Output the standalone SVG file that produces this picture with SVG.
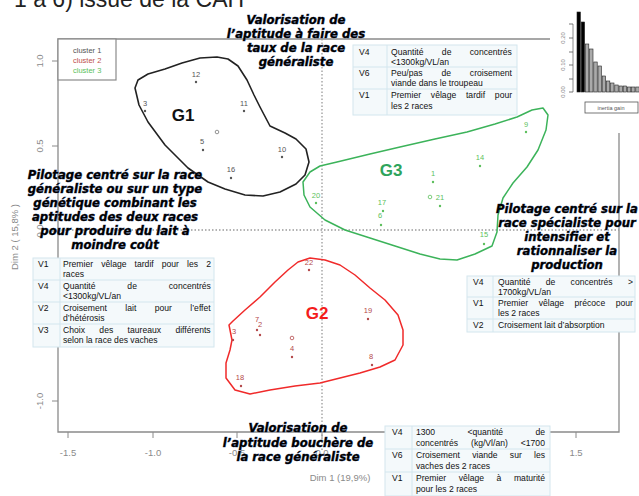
<svg xmlns="http://www.w3.org/2000/svg" width="639" height="496" viewBox="0 0 639 496">
<defs>
<style>
.ax{stroke:#8a8a8a;stroke-width:1.3;fill:none}
.tk{stroke:#8a8a8a;stroke-width:1}
.al{font-family:"Liberation Sans",Arial,sans-serif;font-size:9.5px;fill:#8a8a8a}
.guide{stroke:#9a9a9a;stroke-width:1.3;stroke-dasharray:1.5 2;fill:none}
.num{font-family:"Liberation Sans",Arial,sans-serif;font-size:7.5px;text-anchor:middle}
.c1 .num,.c1 .pt{fill:#555}
.c2 .num,.c2 .pt{fill:#b4484a}
.c3 .num,.c3 .pt{fill:#5cbf5c}
.cen{fill:none;stroke-width:0.8}
.head{font-family:"DejaVu Sans",Verdana,sans-serif;font-size:11.7px;font-weight:bold;font-style:italic;fill:#000;stroke:#233d7a;stroke-width:0.5;paint-order:stroke;text-anchor:middle}
.tb{fill:#f4f9fb;stroke:#d3e6ee;stroke-width:1}
.tl{stroke:#d3e6ee;stroke-width:1}
.tt{font-family:"Liberation Sans",Arial,sans-serif;font-size:8.6px;fill:#111}
.glab{font-family:"Liberation Sans",Arial,sans-serif;font-size:17px;font-weight:bold}
</style>
</defs>
<rect width="639" height="496" fill="#fff"/>
<text x="14" y="7" font-family="Liberation Sans,Arial,sans-serif" font-size="23" fill="#222">1 à 6) issue de la CAH</text>

<g id="axes">
<polyline class="ax" points="550,39 58,39 58,432 619,432 619,133"/>
<line class="tk" x1="52" y1="61" x2="58" y2="61"/>
<line class="tk" x1="52" y1="146" x2="58" y2="146"/>
<line class="tk" x1="52" y1="231" x2="58" y2="231"/>
<line class="tk" x1="52" y1="316" x2="58" y2="316"/>
<line class="tk" x1="52" y1="401" x2="58" y2="401"/>
<text class="al" transform="translate(43,61) rotate(-90)" text-anchor="middle">1.0</text>
<text class="al" transform="translate(43,146) rotate(-90)" text-anchor="middle">0.5</text>
<text class="al" transform="translate(43,231) rotate(-90)" text-anchor="middle">0.0</text>
<text class="al" transform="translate(43,401) rotate(-90)" text-anchor="middle">-1.0</text>
<line class="tk" x1="68" y1="432" x2="68" y2="438"/>
<line class="tk" x1="153" y1="432" x2="153" y2="438"/>
<line class="tk" x1="237" y1="432" x2="237" y2="438"/>
<line class="tk" x1="322" y1="432" x2="322" y2="438"/>
<line class="tk" x1="576" y1="432" x2="576" y2="438"/>
<text class="al" x="68" y="456" text-anchor="middle">-1.5</text>
<text class="al" x="153" y="456" text-anchor="middle">-1.0</text>
<text class="al" x="237" y="456" text-anchor="middle">-0.5</text>
<text class="al" x="322" y="456" text-anchor="middle">0.0</text>
<text class="al" x="576" y="456" text-anchor="middle">1.5</text>
<text class="al" x="340" y="481" text-anchor="middle">Dim 1 (19,9%)</text>
<text class="al" transform="translate(18,237) rotate(-90)" text-anchor="middle">Dim 2 ( 15,8% )</text>
</g>

<g id="guides">
<line class="guide" x1="322" y1="39" x2="322" y2="450"/>
<line class="guide" x1="58" y1="230" x2="619" y2="230"/>
</g>

<g id="legend">
<rect x="58" y="39" width="58" height="41" fill="#fff" stroke="#8a8a8a" stroke-width="1.2"/>
<text x="73" y="53" font-family="Liberation Sans,Arial,sans-serif" font-size="7.5" fill="#555">cluster 1</text>
<text x="73" y="63" font-family="Liberation Sans,Arial,sans-serif" font-size="7.5" fill="#c0504d">cluster 2</text>
<text x="73" y="73" font-family="Liberation Sans,Arial,sans-serif" font-size="7.5" fill="#5cbf5c">cluster 3</text>
</g>

<g id="G1" class="c1">
<polygon points="200,58 217,57 228,59 238,66 247,80 254,95 260,107 270,126 285,133 296,139 306,149 309,162 305,175 296,184 280,192 263,196 245,195 225,189 208,182 188,168 165,145 148,122 139,105 135,88 138,80 148,74 165,69 182,63" fill="none" stroke="#222" stroke-width="1.6" stroke-linejoin="round"/>
<text class="glab" x="183" y="121" text-anchor="middle" fill="#111">G1</text>
<text class="num" x="196" y="77">12</text><circle class="pt" cx="196" cy="82" r="1.2"/>
<text class="num" x="145" y="106">3</text><circle class="pt" cx="145" cy="111" r="1.2"/>
<text class="num" x="244" y="106">11</text><circle class="pt" cx="244" cy="111" r="1.2"/>
<text class="num" x="202" y="144">5</text><circle class="pt" cx="203" cy="150" r="1.2"/>
<text class="num" x="282" y="152">10</text><circle class="pt" cx="282" cy="157" r="1.2"/>
<text class="num" x="231" y="172">16</text><circle class="pt" cx="231" cy="178" r="1.2"/>
<circle class="cen" cx="217" cy="132" r="1.8" stroke="#777"/>
</g>

<g id="G3" class="c3">
<polygon points="303,182 310,172 320,166 337,162 370,154 400,147 435,139 467,132 495,124 517,117 532,110 543,108 548,115 546,130 538,150 527,167 513,183 503,198 498,215 497,232 492,246 475,254 457,260 440,259 420,254 395,246 370,238 345,230 325,220 310,207 304,195" fill="none" stroke="#3cb35a" stroke-width="1.5" stroke-linejoin="round"/>
<text class="glab" x="391" y="176" text-anchor="middle" fill="#2ea45c">G3</text>
<text class="num" x="526" y="127">9</text><circle class="pt" cx="526" cy="132" r="1.2"/>
<text class="num" x="480" y="160">14</text><circle class="pt" cx="480" cy="166" r="1.2"/>
<text class="num" x="433" y="176">1</text><circle class="pt" cx="433" cy="182" r="1.2"/>
<text class="num" x="440" y="200">21</text><circle class="pt" cx="440" cy="206" r="1.2"/>
<circle class="cen" cx="430" cy="197" r="1.8" stroke="#5cbf5c"/>
<text class="num" x="316" y="198">20</text><circle class="pt" cx="316" cy="203" r="1.2"/>
<text class="num" x="382" y="205">17</text><circle class="pt" cx="383" cy="211" r="1.2"/>
<text class="num" x="380" y="218">6</text><circle class="pt" cx="381" cy="225" r="1.2"/>
<text class="num" x="484" y="237">15</text><circle class="pt" cx="484" cy="244" r="1.2"/>
</g>

<g id="G2" class="c2">
<polygon points="298,262 310,258 325,260 340,265 355,275 370,288 385,300 398,315 403,330 403,345 395,360 380,367 360,373 340,378 320,383 295,386 270,390 250,394 235,390 226,378 226,363 230,350 232,340 229,325 233,321 245,310 260,297 275,282 288,270" fill="none" stroke="#f02a2a" stroke-width="1.5" stroke-linejoin="round"/>
<text class="glab" x="317" y="319" text-anchor="middle" fill="#f41c1c">G2</text>
<text class="num" x="309" y="265">22</text><circle class="pt" cx="309" cy="270" r="1.2"/>
<text class="num" x="368" y="313">19</text><circle class="pt" cx="368" cy="319" r="1.2"/>
<text class="num" x="257" y="322">7</text><circle class="pt" cx="257" cy="330" r="1.2"/>
<text class="num" x="260" y="327">2</text><circle class="pt" cx="260" cy="335" r="1.2"/>
<text class="num" x="234" y="334">3</text><circle class="pt" cx="233" cy="340" r="1.2"/>
<circle class="cen" cx="292" cy="338" r="1.8" stroke="#b4484a"/>
<text class="num" x="292" y="351">4</text><circle class="pt" cx="292" cy="357" r="1.2"/>
<text class="num" x="371" y="359">8</text><circle class="pt" cx="372" cy="365" r="1.2"/>
<text class="num" x="240" y="380">18</text><circle class="pt" cx="241" cy="386" r="1.2"/>
</g>

<g id="inertia">
<rect x="551" y="0" width="88" height="132" fill="#fff"/>
<line class="tk" x1="573" y1="24" x2="573" y2="92" stroke="#555"/>
<g stroke="#555" stroke-width="0.8">
<line x1="569" y1="24" x2="573" y2="24"/><line x1="569" y1="38" x2="573" y2="38"/><line x1="569" y1="52" x2="573" y2="52"/><line x1="569" y1="65" x2="573" y2="65"/><line x1="569" y1="79" x2="573" y2="79"/><line x1="569" y1="92" x2="573" y2="92"/>
</g>
<g font-family="Liberation Sans,Arial,sans-serif" font-size="6" fill="#888" text-anchor="middle">
<text transform="translate(565,38) rotate(-90)">0.20</text>
<text transform="translate(565,65) rotate(-90)">0.10</text>
<text transform="translate(565,92) rotate(-90)">0.00</text>
</g>
<g stroke="#222" stroke-width="0.6">
<rect x="577" y="12" width="3.4" height="80" fill="#000"/>
<rect x="581.2" y="22" width="3.4" height="70" fill="#000"/>
<rect x="585.4" y="44" width="3.4" height="48" fill="#aaa"/>
<rect x="589.6" y="49" width="3.4" height="43" fill="#aaa"/>
<rect x="593.8" y="62" width="3.4" height="30" fill="#aaa"/>
<rect x="598" y="66" width="3.4" height="26" fill="#aaa"/>
<rect x="602.2" y="76" width="3.4" height="16" fill="#aaa"/>
<rect x="606.4" y="81" width="3.4" height="11" fill="#aaa"/>
<rect x="610.6" y="83" width="3.4" height="9" fill="#aaa"/>
<rect x="614.8" y="85" width="3.4" height="7" fill="#aaa"/>
<rect x="619" y="86" width="3.4" height="6" fill="#aaa"/>
<rect x="623.2" y="86" width="3.4" height="6" fill="#aaa"/>
<rect x="627.4" y="87" width="3.4" height="5" fill="#aaa"/>
<rect x="631.6" y="87" width="3.4" height="5" fill="#aaa"/>
<rect x="635.8" y="87" width="3.4" height="5" fill="#aaa"/>
</g>
<rect x="585" y="102" width="53" height="11" fill="#fff" stroke="#555" stroke-width="0.8"/>
<text x="611" y="110" font-family="Liberation Sans,Arial,sans-serif" font-size="5.5" fill="#555" text-anchor="middle">inertia gain</text>
</g>

<g id="text-top">
<text class="head" x="296" y="24">Valorisation de</text>
<text class="head" x="296" y="38">l’aptitude à faire des</text>
<text class="head" x="296" y="52">taux de la race</text>
<text class="head" x="296" y="66">généraliste</text>
</g>

<g id="table-top">
<rect class="tb" x="353" y="45" width="164" height="70"/>
<line class="tl" x1="353" y1="67" x2="517" y2="67"/>
<line class="tl" x1="353" y1="89" x2="517" y2="89"/>
<line class="tl" x1="387" y1="45" x2="387" y2="115"/>
<text class="tt" x="359" y="55">V4</text>
<text class="tt" x="391" y="55" word-spacing="16">Quantité de concentrés</text>
<text class="tt" x="391" y="65">&lt;1300kg/VL/an</text>
<text class="tt" x="359" y="76">V6</text>
<text class="tt" x="391" y="76" word-spacing="16.5">Peu/pas de croisement</text>
<text class="tt" x="391" y="86">viande dans le troupeau</text>
<text class="tt" x="359" y="98">V1</text>
<text class="tt" x="391" y="98" word-spacing="7.4">Premier vêlage tardif pour</text>
<text class="tt" x="391" y="109">les 2 races</text>
</g>

<g id="text-left">
<text class="head" x="115" y="179">Pilotage centré sur la race</text>
<text class="head" x="115" y="193">généraliste ou sur un type</text>
<text class="head" x="115" y="207">génétique combinant les</text>
<text class="head" x="115" y="221">aptitudes des deux races</text>
<text class="head" x="115" y="235">pour produire du lait à</text>
<text class="head" x="115" y="249">moindre coût</text>
</g>

<g id="table-left">
<rect class="tb" x="33" y="258" width="181" height="89"/>
<line class="tl" x1="33" y1="280" x2="214" y2="280"/>
<line class="tl" x1="33" y1="302" x2="214" y2="302"/>
<line class="tl" x1="33" y1="324" x2="214" y2="324"/>
<line class="tl" x1="60" y1="258" x2="60" y2="347"/>
<text class="tt" x="38" y="267">V1</text>
<text class="tt" x="63" y="267" word-spacing="5.7">Premier vêlage tardif pour les 2</text>
<text class="tt" x="63" y="277">races</text>
<text class="tt" x="38" y="289">V4</text>
<text class="tt" x="63" y="289" word-spacing="29.5">Quantité de concentrés</text>
<text class="tt" x="63" y="299">&lt;1300kg/VL/an</text>
<text class="tt" x="38" y="311">V2</text>
<text class="tt" x="63" y="311" word-spacing="16">Croisement lait pour l’effet</text>
<text class="tt" x="63" y="321">d’hétérosis</text>
<text class="tt" x="38" y="333">V3</text>
<text class="tt" x="63" y="333" word-spacing="12">Choix des taureaux différents</text>
<text class="tt" x="63" y="343">selon la race des vaches</text>
</g>

<g id="text-right">
<text class="head" x="567" y="213">Pilotage centré sur la</text>
<text class="head" x="567" y="227">race spécialiste pour</text>
<text class="head" x="567" y="241">intensifier et</text>
<text class="head" x="567" y="255">rationnaliser la</text>
<text class="head" x="567" y="269">production</text>
</g>

<g id="table-right">
<rect class="tb" x="467" y="276" width="168" height="56"/>
<line class="tl" x1="467" y1="297" x2="635" y2="297"/>
<line class="tl" x1="467" y1="319" x2="635" y2="319"/>
<line class="tl" x1="493" y1="276" x2="493" y2="332"/>
<text class="tt" x="473" y="285">V4</text>
<text class="tt" x="498" y="285" word-spacing="12.9">Quantité de concentrés &gt;</text>
<text class="tt" x="498" y="295">1700kg/VL/an</text>
<text class="tt" x="473" y="306">V1</text>
<text class="tt" x="498" y="306" word-spacing="8.2">Premier vêlage précoce pour</text>
<text class="tt" x="498" y="316">les 2 races</text>
<text class="tt" x="473" y="328">V2</text>
<text class="tt" x="498" y="328">Croisement lait d’absorption</text>
</g>

<g id="text-bottom">
<text class="head" x="298" y="432">Valorisation de</text>
<text class="head" x="298" y="447">l’aptitude bouchère de</text>
<text class="head" x="298" y="461">la race généraliste</text>
</g>

<g id="table-bottom">
<rect class="tb" x="385" y="426" width="165" height="70"/>
<line class="tl" x1="385" y1="449" x2="550" y2="449"/>
<line class="tl" x1="385" y1="472" x2="550" y2="472"/>
<line class="tl" x1="412" y1="426" x2="412" y2="496"/>
<text class="tt" x="392" y="435">V4</text>
<text class="tt" x="416" y="435" word-spacing="30">1300 &lt;quantité de</text>
<text class="tt" x="416" y="446" word-spacing="10.6">concentrés (kg/Vl/an) &lt;1700</text>
<text class="tt" x="392" y="458">V6</text>
<text class="tt" x="416" y="458" word-spacing="9.9">Croisement viande sur les</text>
<text class="tt" x="416" y="469">vaches des 2 races</text>
<text class="tt" x="392" y="481">V1</text>
<text class="tt" x="416" y="481" word-spacing="10.2">Premier vêlage à maturité</text>
<text class="tt" x="416" y="492">pour les 2 races</text>
</g>
</svg>
